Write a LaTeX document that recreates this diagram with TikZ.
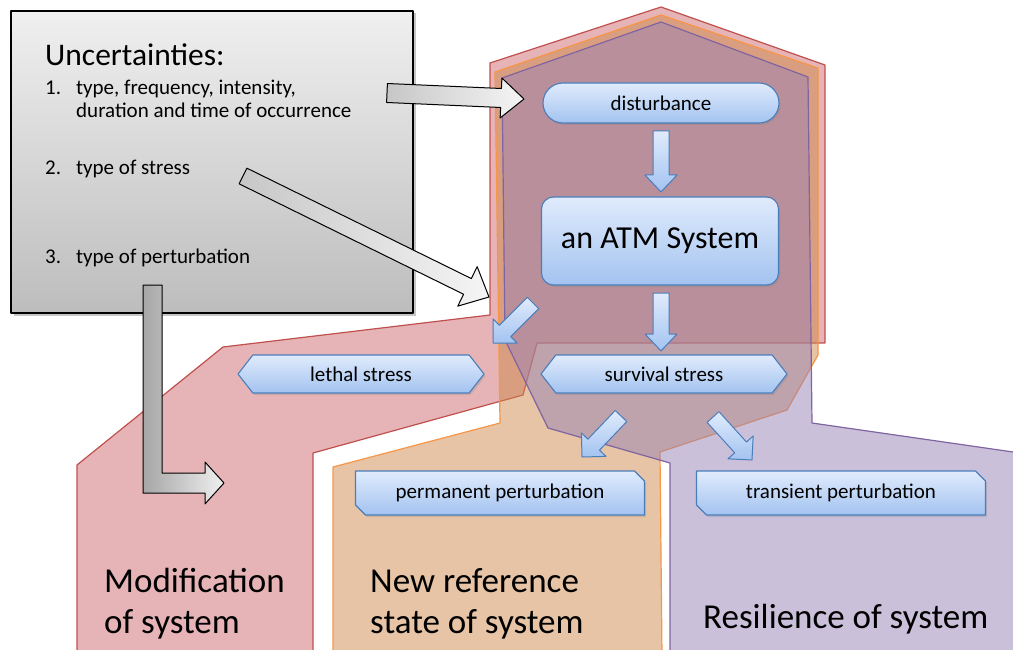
\documentclass[tikz,border=0pt]{standalone}
\usepackage{fontspec}
\setmainfont{Carlito}
\usetikzlibrary{calc,shapes.misc,shapes.symbols,shadows}

\definecolor{regred}{RGB}{192,80,77}
\definecolor{regorange}{RGB}{247,150,70}
\definecolor{regpurple}{RGB}{128,100,162}
\definecolor{fillred}{RGB}{205,105,109}
\definecolor{fillorange}{RGB}{205,137,75}
\definecolor{fillpurple}{RGB}{151,129,181}
\definecolor{boxline}{RGB}{74,126,187}
\definecolor{boxtop}{RGB}{224,235,252}
\definecolor{boxbot}{RGB}{163,195,240}

% block arrow: style, start, end, half body, half head, head length
\newcommand{\blockarrow}[6]{%
  \coordinate (ah) at ($(#3)!#6!(#2)$);
  \path[#1] ($(#2)!#4!90:(#3)$) -- ($(ah)!#4!-90:(#2)$) -- ($(ah)!#5!-90:(#2)$)
    -- (#3) -- ($(ah)!#5!90:(#2)$) -- ($(ah)!#4!90:(#2)$) -- ($(#2)!#4!-90:(#3)$) -- cycle;}

\tikzset{
  region/.style={line width=1.2pt, fill opacity=0.5},
  bluebox/.style={draw=boxline, line width=1.1pt, top color=boxtop, bottom color=boxbot,
    font=\fontsize{21}{25}\selectfont, inner sep=0pt,
    drop shadow={opacity=0.25, shadow xshift=1.5pt, shadow yshift=-2pt}},
  pill/.style={bluebox, rectangle, rounded corners=20pt, minimum width=236pt, minimum height=40pt},
  sysbox/.style={bluebox, rectangle, rounded corners=12pt, minimum width=237pt, minimum height=88pt,
    font=\fontsize{32}{38}\selectfont},
  stressbox/.style={bluebox, signal, signal to=west and east, signal pointer angle=104,
    minimum width=246pt, minimum height=38pt},
  pertbox/.style={bluebox, chamfered rectangle, chamfered rectangle corners={north east,south west},
    chamfered rectangle xsep=5pt, chamfered rectangle ysep=5pt, minimum width=289pt, minimum height=44pt},
  bluearr/.style={draw=boxline, line width=1pt, top color=boxtop, bottom color=boxbot},
  grayarr/.style={draw=black, line width=1pt, left color=black!22, right color=black!4},
  bigtext/.style={anchor=base west, inner sep=0pt, font=\fontsize{35}{41}\selectfont},
  listtext/.style={anchor=base west, inner sep=0pt, font=\fontsize{21}{25}\selectfont}
}

\begin{document}
\begin{tikzpicture}[x=1pt,y=-1pt,line join=round]
  \useasboundingbox (0,0) rectangle (1013,650);
  \clip (0,0) rectangle (1013,650);

  % regions
  \draw[region, draw=regred, fill=fillred] (490,63) -- (661,7) -- (825,65) -- (825,343) -- (537,343)
    -- (523,395) -- (313,453) -- (313,655) -- (77,655) -- (77,465) -- (223,347) -- (490,315) -- cycle;
  \draw[region, draw=regorange, fill=fillorange] (495,72) -- (661,15) -- (818,68) -- (818,355)
    -- (787,410) -- (660,452) -- (662,655) -- (333,655) -- (333,467) -- (500,423) -- cycle;
  \draw[region, draw=regpurple, fill=fillpurple] (502,78) -- (661,22) -- (808,77) -- (812,423)
    -- (1020,453) -- (1020,655) -- (670,655) -- (670,463) -- (548,428) -- (505,340) -- cycle;

  % uncertainties
  \node[draw=black, line width=1.2pt, top color=black!6, bottom color=black!26,
    minimum width=402pt, minimum height=302pt,
    drop shadow={opacity=0.45, shadow xshift=2.5pt, shadow yshift=-2.5pt}] (unc) at (212,162) {};
  \node[anchor=base west, inner sep=0pt, font=\fontsize{31.5}{36}\selectfont] (unctitle) at (45,66) {Uncertainties:};
  \node[listtext] (u1) at (45,95) {\makebox[31pt][l]{1.}type, frequency, intensity,};
  \node[listtext] (u1b) at (76,118) {duration and time of occurrence};
  \node[listtext] (u2) at (45,175) {\makebox[31pt][l]{2.}type of stress};
  \node[listtext] (u3) at (45,263) {\makebox[31pt][l]{3.}type of perturbation};

  % gray arrows
  \coordinate (g1s) at (387,93);
  \coordinate (g1e) at (524,99);
  \coordinate (g2s) at (243,176);
  \coordinate (g2e) at (489,297);
  \coordinate (elbs) at (152.5,285);
  \coordinate (elbe) at (224,483);
  \blockarrow{grayarr}{g1s}{g1e}{9.5pt}{20pt}{23pt}
  \blockarrow{grayarr}{g2s}{g2e}{8.75pt}{22pt}{24pt}
  \path[grayarr, left color=black!35, right color=black!6] ($(elbs)+(-9.5,0)$) -- ($(elbs)+(9.5,0)$) -- ($(elbs |- elbe)+(9.5,-10)$)
    -- ($(elbe)+(-19,-10)$) -- ($(elbe)+(-19,-21)$) -- (elbe) -- ($(elbe)+(-19,21)$)
    -- ($(elbe)+(-19,10)$) -- ($(elbs |- elbe)+(-9.5,10)$) -- cycle;

  % process nodes
  \node[pill] (dist) at (661,103) {disturbance};
  \node[sysbox] (atm) at (660,241) {an ATM System};
  \node[stressbox] (lethal) at (361,374) {lethal stress};
  \node[stressbox] (surv) at (664,374) {survival stress};
  \node[pertbox] (perm) at (500,493) {permanent perturbation};
  \node[pertbox] (trans) at (841,493) {transient perturbation};

  % blue arrows
  \coordinate (a1s) at (661,131);
  \coordinate (a1e) at (661,192);
  \coordinate (a2s) at (661,293);
  \coordinate (a2e) at (661,351);
  \coordinate (a3s) at (533,303);
  \coordinate (a3e) at (493,343);
  \coordinate (a4s) at (621,416);
  \coordinate (a4e) at (582,457);
  \coordinate (a5s) at (713,417);
  \coordinate (a5e) at (752,460);
  \blockarrow{bluearr}{a1s}{a1e}{8pt}{16pt}{17pt}
  \blockarrow{bluearr}{a2s}{a2e}{8pt}{16pt}{17pt}
  \blockarrow{bluearr}{a3s}{a3e}{8pt}{17pt}{17pt}
  \blockarrow{bluearr}{a4s}{a4e}{8pt}{17pt}{17pt}
  \blockarrow{bluearr}{a5s}{a5e}{8pt}{17pt}{17pt}

  % region labels
  \node[bigtext] (mod1) at (104,592) {Modification};
  \node[bigtext] (mod2) at (104,633) {of system};
  \node[bigtext] (new1) at (370,592) {New reference};
  \node[bigtext] (new2) at (370,633) {state of system};
  \node[bigtext] (res) at (703,628) {Resilience of system};
\end{tikzpicture}
\end{document}
